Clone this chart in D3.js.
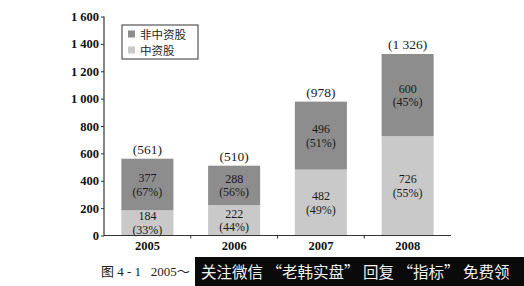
<!DOCTYPE html>
<html><head><meta charset="utf-8">
<script src="https://cdn.jsdelivr.net/npm/d3@7"></script>
<style>body{margin:0;background:#fff}svg{display:block}
.sf{font-family:"Liberation Serif","Times New Roman",Times,serif}</style>
</head><body>
<svg id="c" width="524" height="286"></svg>
<script>
const years = ["2005","2006","2007","2008"];
const zhongzi = [184, 222, 482, 726];
const feizhongzi = [377, 288, 496, 600];
const zhongziPct = ["33%","44%","49%","55%"];
const feizhongziPct = ["67%","56%","51%","45%"];
const totals = ["561","510","978","1 326"];
const yTicks = [0,200,400,600,800,1000,1200,1400,1600];
const seriesNames = ["非中资股","中资股"];

const svg = d3.select("#c");
const cjk = "'Noto Sans CJK SC',sans-serif";
const cDark = "#8d8d8d", cLight = "#c9c9c9";

const x = d3.scaleBand().domain(years).range([104, 451]).paddingInner(0.4).paddingOuter(0.2);
const y = d3.scaleLinear().domain([0,1600]).range([235.5, 16.5]);
const fmt = v => v >= 1000 ? d3.format(",")(v).replace(",", " ") : String(v);

const g = svg.append("g");
years.forEach((yr,i)=>{
  const bx = x(yr), bw = x.bandwidth();
  const y0 = y(0), y1 = y(zhongzi[i]), y2 = y(zhongzi[i]+feizhongzi[i]);
  g.append("rect").attr("x",bx).attr("y",y1).attr("width",bw).attr("height",y0-y1).attr("fill",cLight);
  g.append("rect").attr("x",bx).attr("y",y2).attr("width",bw).attr("height",y1-y2).attr("fill",cDark);
  const cx = bx + bw/2;
  const lab = (cy, v, p) => {
    g.append("text").attr("class","sf").attr("x",cx).attr("y",cy-2.5).attr("text-anchor","middle")
      .attr("font-size",12).attr("fill","#1a1a1a").text(v);
    g.append("text").attr("class","sf").attr("x",cx).attr("y",cy+11).attr("text-anchor","middle")
      .attr("font-size",12).attr("fill","#1a1a1a").text("("+p+")");
  };
  lab((y0+y1)/2, zhongzi[i], zhongziPct[i]);
  lab((y1+y2)/2, feizhongzi[i], feizhongziPct[i]);
  g.append("text").attr("class","sf").attr("x",cx).attr("y",y2-5).attr("text-anchor","middle")
    .attr("font-size",13.5).attr("fill","#1a1a1a").text("("+totals[i]+")");
});

const ya = svg.append("g").attr("transform","translate(104,0)")
  .call(d3.axisLeft(y).tickValues(yTicks).tickSize(3).tickPadding(2).tickFormat(fmt));
ya.select(".domain").attr("stroke","#333").attr("stroke-width",1.2).attr("d","M0,"+y(1600)+"V"+y(0));
ya.selectAll("text").attr("class","sf").attr("font-weight","bold").attr("font-size",12.5).attr("fill","#111");
ya.selectAll("line").attr("stroke","#333");

const xa = svg.append("g").attr("transform","translate(0,"+y(0)+")")
  .call(d3.axisBottom(x).tickSize(0).tickPadding(6));
xa.select(".domain").attr("stroke","#333").attr("stroke-width",1.2).attr("d","M104,0H451");
xa.selectAll("text").attr("class","sf").attr("font-weight","bold").attr("font-size",12.5).attr("fill","#111");
years.slice(1).forEach(yr=>{
  const bx = x(yr) - x.step()*x.paddingInner()/2;
  xa.append("line").attr("x1",bx).attr("x2",bx).attr("y1",0).attr("y2",3).attr("stroke","#333");
});
svg.selectAll("g").attr("font-family",null);

const lg = svg.append("g");
lg.append("rect").attr("x",122).attr("y",25).attr("width",76).attr("height",34)
  .attr("fill","#fff").attr("stroke","#333").attr("stroke-width",1);
[cDark,cLight].forEach((c,i)=>{
  lg.append("rect").attr("x",128).attr("y",30.5+i*16).attr("width",7).attr("height",7).attr("fill",c);
  lg.append("text").attr("x",140).attr("y",38.5+i*16).attr("font-family",cjk).attr("font-size",11.5)
    .attr("fill","#222").text(seriesNames[i]);
});

svg.append("text").attr("x",101).attr("y",276).attr("font-family","'Liberation Serif','Noto Sans CJK SC',serif").attr("font-size",13)
  .attr("fill","#222").attr("xml:space","preserve").text("图 4 - 1   2005～");
svg.append("rect").attr("x",195).attr("y",257).attr("width",329).attr("height",29).attr("fill","#0a0a0a");
svg.append("text").attr("x",201).attr("y",278).attr("font-family",cjk).attr("font-size",15.5)
  .attr("fill","#f0f0f0")
  .text("关注微信 “老韩实盘” 回复 “指标” 免费领");
</script>
</body></html>
